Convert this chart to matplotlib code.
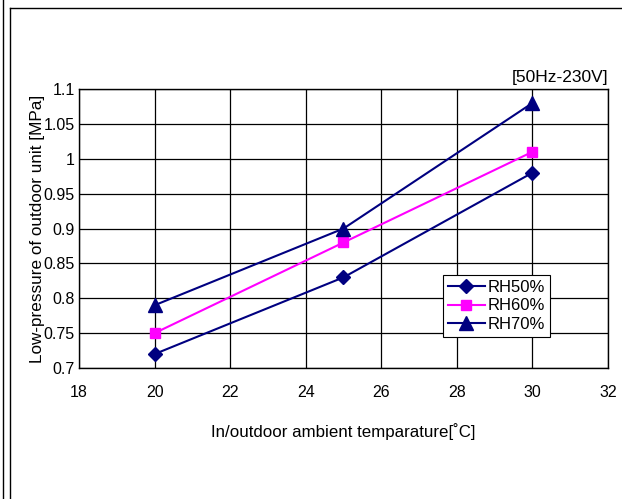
import matplotlib.pyplot as plt
from matplotlib.lines import Line2D

# data
temps = [20, 25, 30]
rh50 = [0.72, 0.83, 0.98]
rh60 = [0.75, 0.88, 1.01]
rh70 = [0.79, 0.90, 1.08]

x_ticks = [18, 20, 22, 24, 26, 28, 30, 32]
y_ticks = [0.7, 0.75, 0.8, 0.85, 0.9, 0.95, 1.0, 1.05, 1.1]
y_labels = ["0.7", "0.75", "0.8", "0.85", "0.9", "0.95", "1", "1.05", "1.1"]

plt.rcParams['font.family'] = ['Liberation Sans', 'DejaVu Sans']

fig = plt.figure(figsize=(6.22, 4.99), dpi=100)
ax = fig.add_axes([0.127, 0.2625, 0.8505, 0.559])

navy = '#000080'
ax.plot(temps, rh50, color=navy, marker='D', markersize=7.5, lw=1.5, label='RH50%')
ax.plot(temps, rh60, color='#ff00ff', marker='s', markersize=7.5, lw=1.5, label='RH60%')
ax.plot(temps, rh70, color=navy, marker='^', markersize=10, lw=1.5, label='RH70%')

ax.set_xlim(18, 32)
ax.set_ylim(0.7, 1.1)
ax.set_xticks(x_ticks)
ax.set_yticks(y_ticks)
ax.set_yticklabels(y_labels)
ax.tick_params(length=0, labelsize=11.5)
ax.tick_params(axis='x', pad=12)
ax.tick_params(axis='y', pad=3)
ax.grid(True, color='black', lw=0.9)
for s in ax.spines.values():
    s.set_color('black')
    s.set_linewidth(1.0)

ax.set_xlabel('In/outdoor ambient temparature[˚C]', fontsize=12.2, labelpad=17)
ax.set_ylabel('Low-pressure of outdoor unit [MPa]', fontsize=12.3, labelpad=-1)
ax.text(1.0, 1.015, '[50Hz-230V]', transform=ax.transAxes, ha='right', va='bottom', fontsize=12.5)

leg = ax.legend(loc='upper left', bbox_to_anchor=(0.688, 0.333), fontsize=12,
                frameon=True, fancybox=False, edgecolor='black', framealpha=1,
                handlelength=2.2, handletextpad=0.2, borderpad=0.3, labelspacing=0.2,
                borderaxespad=0)
leg.get_frame().set_linewidth(0.8)

# page frame lines
fig.add_artist(Line2D([0.005, 0.005], [0, 1], transform=fig.transFigure, color='black', lw=1))
fig.add_artist(Line2D([0.016, 0.016], [0, 0.984], transform=fig.transFigure, color='black', lw=1))
fig.add_artist(Line2D([0.016, 1.0], [0.984, 0.984], transform=fig.transFigure, color='black', lw=1))

plt.savefig('out.png', dpi=100)
